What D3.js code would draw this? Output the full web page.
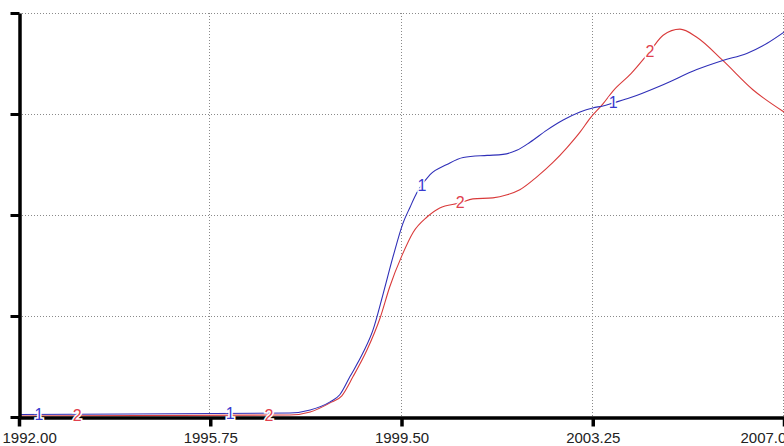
<!DOCTYPE html>
<html><head><meta charset="utf-8">
<script src="https://cdn.jsdelivr.net/npm/d3@7"></script>
<style>
html,body{margin:0;padding:0;background:#fff;}
svg{display:block;font-family:"Liberation Sans",Arial,sans-serif;}
</style></head>
<body><svg id="c" width="784" height="446"></svg>
<script>
// Series 1 (blue)
const years1 = [1992.0,1994.18,1997.31,1997.71,1998.10,1998.29,1998.49,1998.75,1998.94,1999.14,1999.33,1999.53,1999.67,1999.80,2000.06,2000.39,2000.71,2001.18,2001.49,2001.76,2002.02,2002.35,2002.67,2003.0,2003.25,2003.45,2003.65,2003.98,2004.63,2005.29,2005.80,2006.27,2006.67,2007.0];
const values1 = [0.025,0.03,0.04,0.07,0.15,0.22,0.40,0.64,0.86,1.22,1.58,1.92,2.08,2.22,2.40,2.50,2.57,2.59,2.60,2.64,2.72,2.84,2.94,3.02,3.06,3.08,3.11,3.16,3.29,3.44,3.53,3.60,3.70,3.81];
// Series 2 (red)
const years2 = [1992.0,1997.31,1997.71,1998.10,1998.33,1998.55,1998.82,1999.08,1999.27,1999.51,1999.73,2000.0,2000.25,2000.65,2000.90,2001.29,2001.57,2001.82,2002.16,2002.47,2002.75,2003.0,2003.20,2003.45,2003.65,2004.0,2004.37,2004.63,2004.96,2005.29,2005.80,2006.39,2007.0];
const values2 = [0.01,0.02,0.05,0.14,0.21,0.40,0.66,0.98,1.29,1.60,1.83,1.98,2.07,2.12,2.16,2.17,2.20,2.25,2.38,2.52,2.67,2.82,2.96,3.10,3.23,3.40,3.62,3.78,3.84,3.76,3.53,3.24,3.02];
// Series marker label positions (years)
const labelYears1 = [1992.39,1996.14,1999.90,2003.65];
const labelYears2 = [1993.14,1996.90,2000.65,2004.37];
const xTicks = [1992.00,1995.75,1999.50,2003.25,2007.00];
const yTicks = [0,1,2,3,4];

const svg = d3.select("#c");
const x = d3.scaleLinear().domain([1992,2007]).range([19,784]);
const y = d3.scaleLinear().domain([0,4]).range([417,13]);

// grid
const grid = svg.append("g").attr("stroke","#8a8a8a").attr("stroke-width",1).attr("stroke-dasharray","1,2");
grid.selectAll("line.h").data(yTicks.filter(d=>d>0)).join("line")
  .attr("x1",x(1992)+3).attr("x2",784).attr("y1",d=>Math.round(y(d))+0.5).attr("y2",d=>Math.round(y(d))+0.5);
grid.selectAll("line.v").data(xTicks.slice(1)).join("line")
  .attr("x1",d=>Math.round(x(d))-0.5).attr("x2",d=>Math.round(x(d))-0.5).attr("y1",y(4)).attr("y2",y(0));

// lines
const s1 = years1.map((t,i)=>[t,values1[i]]);
const s2 = years2.map((t,i)=>[t,values2[i]]);
const line = d3.line().x(d=>x(d[0])).y(d=>y(d[1])).curve(d3.curveMonotoneX);
svg.append("path").datum(s2).attr("fill","none").attr("stroke","#d93a3a").attr("stroke-width",1.1).attr("d",line);
svg.append("path").datum(s1).attr("fill","none").attr("stroke","#2f2fb8").attr("stroke-width",1.1).attr("d",line);

// axes
const ax = svg.append("g").attr("transform",`translate(0,${y(0)+0.5})`)
  .call(d3.axisBottom(x).tickValues(xTicks).tickFormat(d3.format(".2f")).tickSize(9).tickSizeOuter(0).tickPadding(6));
ax.select(".domain").attr("stroke","#000").attr("stroke-width",3.5);
ax.selectAll(".tick line").attr("stroke","#000").attr("stroke-width",3.5);
ax.selectAll(".tick text").attr("font-size",15).attr("fill","#222").attr("font-family","'Liberation Sans',Arial,sans-serif");
ax.selectAll(".tick text").filter(d=>d===1992).attr("text-anchor","start").attr("x",-17);
ax.selectAll(".tick text").filter(d=>d===2007).attr("text-anchor","start").attr("x",-44);

const ay = svg.append("g").attr("transform",`translate(${x(1992)+0.5},0)`)
  .call(d3.axisLeft(y).tickValues(yTicks).tickFormat("").tickSize(9).tickSizeOuter(0));
ay.select(".domain").attr("stroke","#000").attr("stroke-width",3.5);
ay.selectAll(".tick line").attr("stroke","#000").attr("stroke-width",3);

// series number markers
function interp(ys, vs, t){ return d3.scaleLinear().domain(ys).range(vs)(t); }
function labels(years, vals, ly, txt, col){
  svg.append("g").selectAll("text").data(ly).join("text")
    .attr("x",d=>x(d)).attr("y",d=>y(interp(years,vals,d)))
    .attr("text-anchor","middle").attr("dominant-baseline","central")
    .attr("font-size",16).attr("fill",col)
    .attr("stroke","#fff").attr("stroke-width",3).attr("paint-order","stroke")
    .text(txt);
}
labels(years1, values1, labelYears1, "1", "#3a3ad0");
labels(years2, values2, labelYears2, "2", "#e0404e");
</script></body></html>
